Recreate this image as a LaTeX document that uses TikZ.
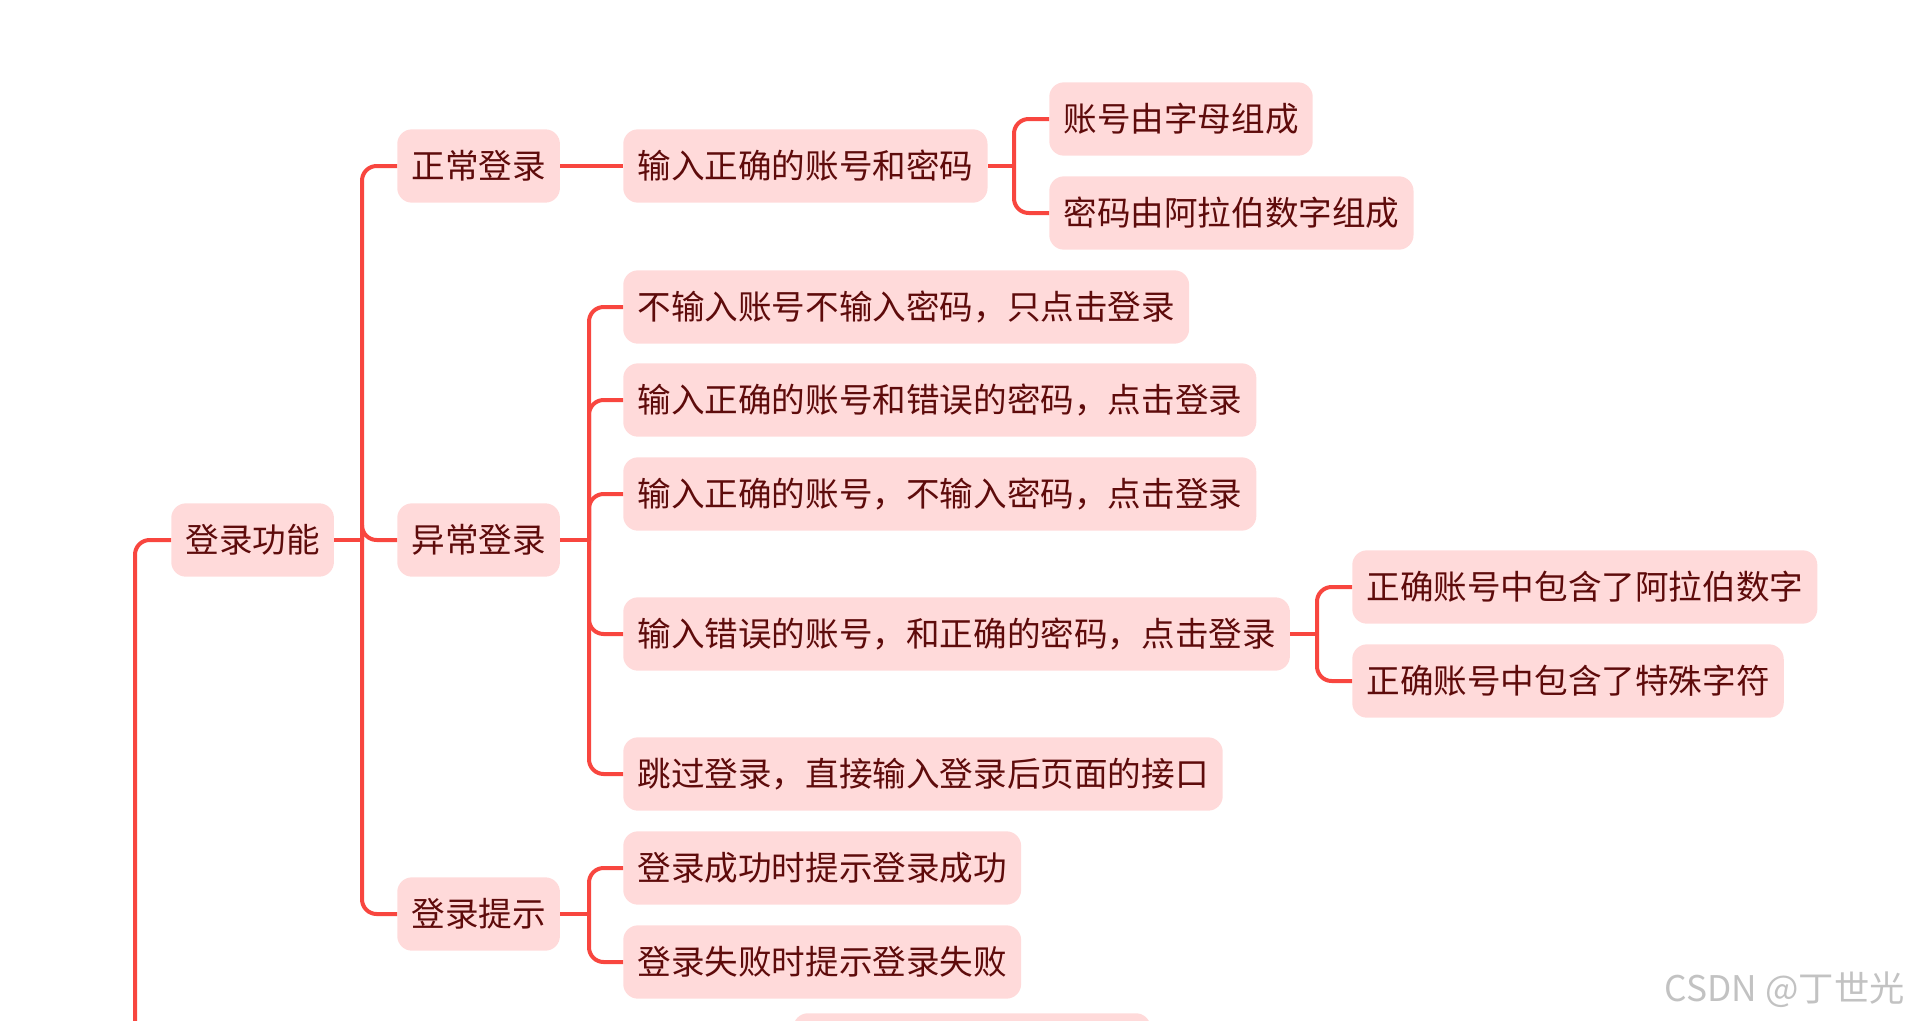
\documentclass[tikz,border=0pt]{standalone}
\usepackage{fontspec}
\usetikzlibrary{positioning,calc}
\newfontfamily\cjk{Noto Sans CJK SC}
\definecolor{mmline}{HTML}{F8463F}
\definecolor{mmfill}{HTML}{FFDADA}
\definecolor{mmtext}{HTML}{5E0B0B}
\definecolor{wmgray}{HTML}{C2C2C2}
\tikzset{
  topicbox/.style={fill=mmfill, rounded corners=11pt, text=mmtext, anchor=west,
                   font=\cjk\fontsize{25.2}{30}\selectfont, inner xsep=10.6pt, inner ysep=0pt,
                   minimum height=55pt},
  stub/.style={draw=mmline, line width=3pt},
  conn/.style={draw=mmline, line width=3pt, rounded corners=11pt}}

\begin{document}
\begin{tikzpicture}[x=0.75pt, y=-0.75pt]
    \useasboundingbox (0,0) rectangle (1911,1021);
    \clip (0,0) rectangle (1911,1021);
    % first level
    \node[topicbox] (root) at (171,540) {登录功能};
    \node[topicbox] (zc) at (397,166) {正常登录};
    \node[topicbox] (yc) at (397,540) {异常登录};
    \node[topicbox] (ts) at (397,914) {登录提示};
    % normal login
    \node[topicbox] (zc1) at (623,166) {输入正确的账号和密码};
    \node[topicbox] (zc11) at (1049,119) {账号由字母组成};
    \node[topicbox] (zc12) at (1049,213) {密码由阿拉伯数字组成};
    % abnormal login
    \node[topicbox] (yc1) at (623,307) {不输入账号不输入密码，只点击登录};
    \node[topicbox] (yc2) at (623,400) {输入正确的账号和错误的密码，点击登录};
    \node[topicbox] (yc3) at (623,494) {输入正确的账号，不输入密码，点击登录};
    \node[topicbox] (yc4) at (623,634) {输入错误的账号，和正确的密码，点击登录};
    \node[topicbox] (yc41) at (1352,587) {正确账号中包含了阿拉伯数字};
    \node[topicbox] (yc42) at (1352,681) {正确账号中包含了特殊字符};
    \node[topicbox] (yc5) at (623,774) {跳过登录，直接输入登录后页面的接口};
    % hints
    \node[topicbox] (ts1) at (623,868) {登录成功时提示登录成功};
    \node[topicbox] (ts2) at (623,962) {登录失败时提示登录失败};
    \node[topicbox, anchor=north west, minimum width=268pt] (more) at (793,1013) {};

    % connectors
    \coordinate (rootdown) at (135,1021);
    \draw[conn] (root.west) -| (rootdown);
    \coordinate (j0) at (362,540);
    \draw[stub] (root.east) -- (j0);
    \foreach \c in {zc,yc,ts} \draw[conn] (j0) |- (\c.west);
    \draw[stub] (zc.east) -- (zc1.west);
    \coordinate (j1) at (1014,166);
    \draw[stub] (zc1.east) -- (j1);
    \foreach \c in {zc11,zc12} \draw[conn] (j1) |- (\c.west);
    \coordinate (j2) at (589,540);
    \draw[stub] (yc.east) -- (j2);
    \foreach \c in {yc1,yc2,yc3,yc4,yc5} \draw[conn] (j2) |- (\c.west);
    \coordinate (j3) at (1317,634);
    \draw[stub] (yc4.east) -- (j3);
    \foreach \c in {yc41,yc42} \draw[conn] (j3) |- (\c.west);
    \coordinate (j4) at (589,914);
    \draw[stub] (ts.east) -- (j4);
    \foreach \c in {ts1,ts2} \draw[conn] (j4) |- (\c.west);

    \node[anchor=east, text=wmgray, font=\cjk\fontsize{26.5}{30}\selectfont, inner sep=0pt]
      (wm) at (1905,990) {CSDN @丁世光};
  \end{tikzpicture}
\end{document}
